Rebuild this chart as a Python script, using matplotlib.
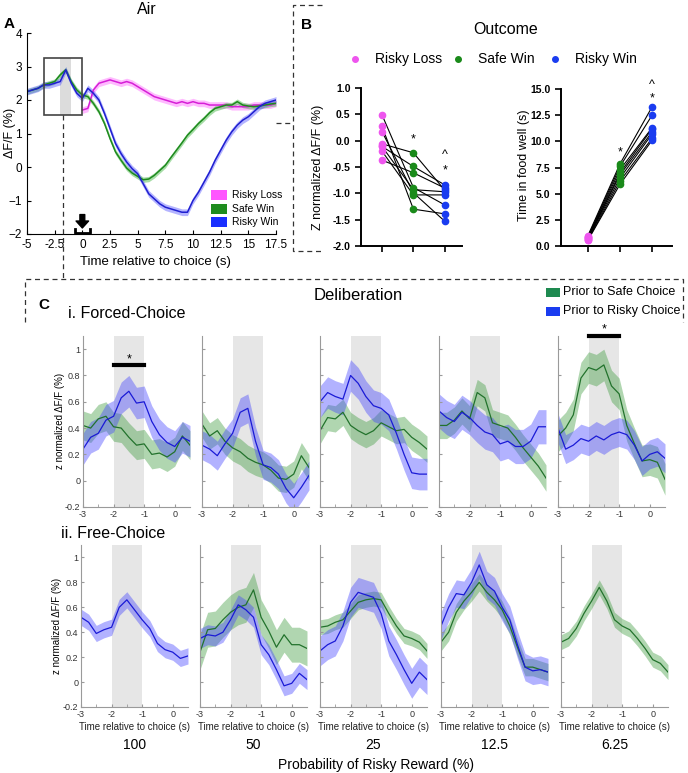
import numpy as np
import matplotlib
matplotlib.use("Agg")
import matplotlib.pyplot as plt
from matplotlib.lines import Line2D
from matplotlib.patches import Rectangle

plt.rcParams["font.family"] = ["Liberation Sans", "DejaVu Sans"]

W, H = 688, 773
nan = np.nan

# ---------------- Panel A: Air (ΔF/F around choice) ----------------
A_TIME = np.arange(-5, 17.51, 0.5)
A_SAFE_WIN = [2.25, 2.3, 2.35, 2.45, 2.5, 2.55, 2.75, 2.9, 2.55, 2.3,
              2.15, 2.1, 1.9, 1.65, 1.3, 0.85, 0.45, 0.2, -0.03, -0.18,
              -0.28, -0.38, -0.36, -0.25, -0.1, 0.05, 0.28, 0.5, 0.72, 0.95,
              1.12, 1.3, 1.45, 1.62, 1.75, 1.8, 1.85, 1.85, 1.95, 1.85,
              1.82, 1.8, 1.82, 1.85, 1.88, 1.9]
A_RISKY_WIN = [2.25, 2.3, 2.35, 2.45, 2.45, 2.5, 2.55, 2.9, 2.5, 2.2,
               2.05, 2.35, 2.2, 2.0, 1.6, 1.15, 0.7, 0.4, 0.15, -0.05,
               -0.2, -0.5, -0.8, -0.95, -1.1, -1.2, -1.25, -1.3, -1.35, -1.35,
               -1.0, -0.75, -0.45, -0.15, 0.2, 0.5, 0.8, 1.05, 1.25, 1.4,
               1.5, 1.65, 1.8, 1.9, 1.95, 2.0]
A_RISKY_LOSS = [nan] * 10 + [
    1.7, 1.75, 2.3, 2.5, 2.55, 2.6, 2.55, 2.5, 2.55, 2.5,
    2.4, 2.3, 2.2, 2.1, 2.05, 2.0, 1.95, 1.9, 1.95, 1.9,
    1.95, 1.9, 1.9, 1.85, 1.85, 1.85, 1.85, 1.8, 1.8, 1.8,
    1.8, 1.85, 1.85, 1.85, 1.85, 1.9]
A_SEM = {"Risky Loss": 0.1, "Safe Win": 0.08, "Risky Win": 0.1}
A_XTICKS = [-5, -2.5, 0, 2.5, 5, 7.5, 10, 12.5, 15, 17.5]
A_XTICKLABELS = ["-5", "-2.5", "0", "2.5", "5", "7.5", "10", "12.5", "15", "17.5"]

# ---------------- Panel B: Outcome ----------------
B_GROUPS = ["Risky Loss", "Safe Win", "Risky Win"]
B_Z_LOSS = [0.49, 0.27, 0.17, -0.06, -0.11, -0.11, -0.2, -0.37]
B_Z_SAFE = [-0.89, -1.3, -0.99, -0.23, -0.49, -0.93, -1.03, -0.61]
B_Z_RISKY = [-1.22, -1.39, -1.53, -0.94, -0.84, -0.97, -1.03, -0.9]
B_WELL_LOSS = [0.55, 0.6, 0.7, 0.75, 0.8, 0.85, 0.9, 1.0]
B_WELL_SAFE = [5.9, 6.2, 6.5, 6.8, 7.0, 7.3, 7.6, 7.85]
B_WELL_RISKY = [10.1, 10.3, 10.7, 10.9, 11.2, 11.3, 12.5, 13.3]

# ---------------- Panel C: Deliberation ----------------
C_TIME = [-3.0, -2.75, -2.5, -2.25, -2.0, -1.75, -1.5, -1.25, -1.0,
          -0.75, -0.5, -0.25, 0.0, 0.25, 0.5]
C_PROBS = ["100", "50", "25", "12.5", "6.25"]

C_FORCED_SAFE = [
    [0.42, 0.40, 0.47, 0.49, 0.41, 0.40, 0.33, 0.27, 0.28, 0.20, 0.21, 0.18, 0.22, 0.34, 0.27],
    [0.43, 0.34, 0.38, 0.30, 0.25, 0.22, 0.17, 0.14, 0.12, 0.08, 0.02, 0.01, 0.05, 0.19, 0.10],
    [0.38, 0.48, 0.47, 0.52, 0.42, 0.38, 0.35, 0.38, 0.44, 0.41, 0.38, 0.39, 0.33, 0.29, 0.24],
    [0.42, 0.42, 0.46, 0.53, 0.47, 0.67, 0.63, 0.44, 0.42, 0.40, 0.33, 0.25, 0.18, 0.11, 0.02],
    [0.34, 0.40, 0.50, 0.78, 0.86, 0.84, 0.88, 0.72, 0.66, 0.42, 0.28, 0.15, 0.16, 0.14, 0.01],
]
C_FORCED_RISKY = [
    [0.24, 0.33, 0.36, 0.46, 0.49, 0.63, 0.68, 0.59, 0.60, 0.45, 0.35, 0.29, 0.26, 0.33, 0.30],
    [0.27, 0.24, 0.19, 0.28, 0.36, 0.52, 0.55, 0.30, 0.12, 0.10, 0.05, -0.06, -0.13, -0.05, 0.04],
    [0.60, 0.67, 0.64, 0.62, 0.80, 0.74, 0.64, 0.57, 0.55, 0.50, 0.36, 0.20, 0.06, 0.05, 0.05],
    [0.53, 0.48, 0.45, 0.52, 0.48, 0.42, 0.37, 0.35, 0.28, 0.30, 0.26, 0.26, 0.30, 0.41, 0.41],
    [0.40, 0.24, 0.27, 0.32, 0.30, 0.34, 0.31, 0.35, 0.37, 0.35, 0.27, 0.15, 0.20, 0.22, 0.17],
]
C_FORCED_SAFE_SEM = [0.11, 0.10, 0.10, 0.10, 0.12]
C_FORCED_RISKY_SEM = [0.12, 0.11, 0.12, 0.13, 0.11]

C_FREE_SAFE = [
    None,
    [0.24, 0.42, 0.43, 0.50, 0.56, 0.60, 0.62, 0.74, 0.52, 0.41, 0.28, 0.38, 0.30, 0.30, 0.27],
    [0.44, 0.45, 0.48, 0.50, 0.57, 0.64, 0.66, 0.67, 0.66, 0.55, 0.45, 0.37, 0.35, 0.32, 0.25],
    [0.32, 0.40, 0.56, 0.65, 0.72, 0.80, 0.72, 0.66, 0.58, 0.45, 0.28, 0.12, 0.12, 0.10, 0.08],
    [0.32, 0.35, 0.43, 0.55, 0.65, 0.76, 0.65, 0.50, 0.45, 0.42, 0.35, 0.27, 0.18, 0.15, 0.08],
]
C_FREE_RISKY = [
    [0.52, 0.48, 0.39, 0.42, 0.44, 0.60, 0.66, 0.58, 0.50, 0.43, 0.31, 0.26, 0.24, 0.19, 0.21],
    [0.35, 0.38, 0.37, 0.40, 0.50, 0.62, 0.58, 0.52, 0.30, 0.22, 0.10, -0.03, -0.01, 0.07, 0.02],
    [0.25, 0.30, 0.33, 0.45, 0.64, 0.72, 0.70, 0.68, 0.55, 0.33, 0.22, 0.10, -0.01, 0.08, 0.02],
    [0.45, 0.60, 0.71, 0.70, 0.80, 0.94, 0.78, 0.73, 0.60, 0.50, 0.30, 0.12, 0.09, 0.10, 0.08],
    None,
]
C_FREE_SAFE_SEM = [0.0, 0.14, 0.06, 0.07, 0.06]
C_FREE_RISKY_SEM = [0.065, 0.08, 0.12, 0.11, 0.0]

# colours
PINK_LINE, PINK_FILL = "#d61fd6", "#ff66ff"
GREEN_LINE_A, GREEN_FILL_A = "#1d8a1d", "#3cb43c"
BLUE_LINE_A, BLUE_FILL_A = "#1f1fd0", "#5a5aff"
C_GREEN_LINE, C_GREEN_FILL = "#22722c", "#3a9a3a"
C_BLUE_LINE, C_BLUE_FILL = "#1a1ad6", "#4040ff"
BAND = "#e6e6e6"


def add_ax(fig, left, top, right, bottom):
    """Axes from pixel box (top-left origin)"""
    return fig.add_axes([left / W, 1 - bottom / H, (right - left) / W, (bottom - top) / H])


def ftext(fig, x, y, s, **kw):
    kw.setdefault("ha", "center")
    kw.setdefault("va", "center")
    fig.text(x / W, 1 - y / H, s, **kw)


def dashed(fig, xs, ys):
    fig.add_artist(Line2D([x / W for x in xs], [1 - y / H for y in ys],
                          transform=fig.transFigure, ls=(0, (4, 3)), lw=0.9, color="#333333"))


def fig_rect(fig, x, y, w, h, color):
    fig.add_artist(Rectangle((x / W, 1 - (y + h) / H), w / W, h / H,
                             transform=fig.transFigure, color=color, lw=0))


fig = plt.figure(figsize=(W / 100, H / 100), dpi=100)

# ================= Panel A =================
ax = add_ax(fig, 27, 33, 276, 234)
t = np.asarray(A_TIME)
series = [("Risky Loss", A_RISKY_LOSS, PINK_LINE, PINK_FILL),
          ("Safe Win", A_SAFE_WIN, GREEN_LINE_A, GREEN_FILL_A),
          ("Risky Win", A_RISKY_WIN, BLUE_LINE_A, BLUE_FILL_A)]
ax.add_patch(Rectangle((-2, 1.55), 1, 1.7, color="#dcdcdc", lw=0, zorder=0))
for name, vals, lc, fc in series:
    v = np.asarray(vals, dtype=float)
    s = A_SEM[name]
    ax.fill_between(t, v - s, v + s, color=fc, alpha=0.45, lw=0, zorder=1)
    ax.plot(t, v, color=lc, lw=1.1, zorder=2)
ax.add_patch(Rectangle((-3.5, 1.55), 3.5, 1.7, fill=False, ec="#444444", lw=1.2, zorder=3))
# choice arrow + bracket
ax.annotate("", xy=(0, -1.82), xytext=(0, -1.42),
            arrowprops=dict(facecolor="black", edgecolor="black", width=3.5,
                            headwidth=9, headlength=5, shrink=0))
ax.plot([-0.7, -0.7, 0.7, 0.7], [-1.86, -1.97, -1.97, -1.86], color="black", lw=2, clip_on=False)
ax.set_xlim(-5, 17.5)
ax.set_ylim(-2, 4)
ax.set_xticks(A_XTICKS)
ax.set_xticklabels(A_XTICKLABELS)
ax.set_yticks([-2, -1, 0, 1, 2, 3, 4])
ax.tick_params(direction="in", labelsize=8.5, length=3)
ax.spines["top"].set_visible(False)
ax.spines["right"].set_visible(False)
for nm, c, yy in [("Risky Loss", "#ff55ff", 195), ("Safe Win", "#1e8c1e", 209), ("Risky Win", "#1a2fff", 222)]:
    fig_rect(fig, 211, yy - 4.5, 16, 9, c)
    ftext(fig, 232, yy, nm, ha="left", fontsize=7.5)
ftext(fig, 147, 10, "Air", fontsize=11.5)
ftext(fig, 9, 24, "A", fontsize=11, fontweight="bold")
ftext(fig, 10, 133, "ΔF/F (%)", rotation=90, fontsize=9)
ftext(fig, 155, 262, "Time relative to choice (s)", fontsize=9.5)

# ================= Panel B =================
ftext(fig, 307, 25, "B", fontsize=11, fontweight="bold")
ftext(fig, 506, 30, "Outcome", fontsize=11.5)
for mx, tx, nm, c in [(355, 375, "Risky Loss", "#ee55ee"), (458, 478, "Safe Win", "#1a8a1a"),
                      (555, 575, "Risky Win", "#1a3cf0")]:
    fig.add_artist(Line2D([mx / W], [1 - 59 / H], marker="o", ms=4, color=c,
                          transform=fig.transFigure, lw=0))
    ftext(fig, tx, 59, nm, ha="left", fontsize=10)

group_colors = ["#ee55ee", "#1a8a1a", "#1a3cf0"]


def paired(ax, cols):
    x = np.arange(len(cols))
    for i in range(len(cols[0])):
        ax.plot(x, [c[i] for c in cols], color="black", lw=0.8, zorder=1)
    for j, c in enumerate(cols):
        ax.plot([j] * len(c), c, "o", ms=4.5, color=group_colors[j], zorder=2, clip_on=False)
    ax.set_xticks(x)
    ax.set_xticklabels([])
    for side in ("top", "right"):
        ax.spines[side].set_visible(False)
    for side in ("left", "bottom"):
        ax.spines[side].set_linewidth(1.4)
    ax.tick_params(direction="out", length=4, width=1.2, labelsize=7.5)
    for lab in ax.get_yticklabels():
        lab.set_fontweight("bold")


axb1 = add_ax(fig, 361, 88, 462, 246)
axb1.set_ylim(-2, 1)
axb1.set_xlim(-0.67, 2.55)
axb1.set_yticks([-2, -1.5, -1, -0.5, 0, 0.5, 1])
axb1.set_yticklabels(["-2.0", "-1.5", "-1.0", "-0.5", "0.0", "0.5", "1.0"])
paired(axb1, [B_Z_LOSS, B_Z_SAFE, B_Z_RISKY])
axb1.text(1, 0.03, "*", ha="center", va="center", fontsize=9)
axb1.text(2, -0.28, "^", ha="center", va="center", fontsize=9)
axb1.text(2, -0.57, "*", ha="center", va="center", fontsize=9)
ftext(fig, 318, 167, "Z normalized ΔF/F (%)", rotation=90, fontsize=9)

axb2 = add_ax(fig, 561, 89, 672, 246)
axb2.set_ylim(0, 15)
axb2.set_xlim(-0.84, 2.62)
axb2.set_yticks([0, 2.5, 5, 7.5, 10, 12.5, 15])
axb2.set_yticklabels(["0.0", "2.5", "5.0", "7.5", "10.0", "12.5", "15.0"])
paired(axb2, [B_WELL_LOSS, B_WELL_SAFE, B_WELL_RISKY])
axb2.text(1, 8.9, "*", ha="center", va="center", fontsize=9, clip_on=False)
axb2.text(2, 14.1, "*", ha="center", va="center", fontsize=9, clip_on=False)
axb2.text(2, 15.4, "^", ha="center", va="center", fontsize=9, clip_on=False)
ftext(fig, 524, 165, "Time in food well (s)", rotation=90, fontsize=9)

# ================= Panel C =================
ftext(fig, 44, 305, "C", fontsize=11, fontweight="bold")
ftext(fig, 358, 296, "Deliberation", fontsize=12)
ftext(fig, 68, 313, "i. Forced-Choice", ha="left", fontsize=11.5)
ftext(fig, 61, 533, "ii. Free-Choice", ha="left", fontsize=11.5)
fig_rect(fig, 546, 288, 14, 9, "#1e8a50")
fig_rect(fig, 546, 307, 14, 9, "#1a3cf0")
ftext(fig, 563, 292, "Prior to Safe Choice", ha="left", fontsize=9)
ftext(fig, 563, 311, "Prior to Risky Choice", ha="left", fontsize=9)

ROW1_LEFT = [83, 202, 320, 439, 558]
ROW2_LEFT = [81, 200, 320, 441, 561]
CW = 107
tc = np.asarray(C_TIME)


def trace_panel(ax, safe, safe_sem, risky, risky_sem, first, bottom_row):
    ax.axvspan(-2, -1, color=BAND, lw=0, zorder=0)
    if safe is not None:
        v = np.asarray(safe)
        ax.fill_between(tc, v - safe_sem, v + safe_sem, color=C_GREEN_FILL, alpha=0.4, lw=0, zorder=1)
    if risky is not None:
        v = np.asarray(risky)
        ax.fill_between(tc, v - risky_sem, v + risky_sem, color=C_BLUE_FILL, alpha=0.4, lw=0, zorder=1)
    if safe is not None:
        ax.plot(tc, safe, color=C_GREEN_LINE, lw=0.9, zorder=2)
    if risky is not None:
        ax.plot(tc, risky, color=C_BLUE_LINE, lw=0.9, zorder=2)
    ax.set_xlim(-3, 0.5)
    ax.set_ylim(-0.2, 1.1)
    ax.set_xticks([-3, -2, -1, 0])
    ax.set_xticks([-2.5, -1.5, -0.5], minor=True)
    ax.set_xticklabels(["-3", "-2", "-1", "0"])
    ax.set_yticks([-0.2, 0, 0.2, 0.4, 0.6, 0.8, 1])
    if first:
        ax.set_yticklabels(["-0.2", "0", "0.2", "0.4", "0.6", "0.8", "1"])
    else:
        ax.set_yticklabels([])
    for side in ("top", "right"):
        ax.spines[side].set_visible(False)
    for side in ("left", "bottom"):
        ax.spines[side].set_color("#9a9a9a")
        ax.spines[side].set_linewidth(0.8)
    ax.tick_params(which="both", direction="in", length=2, labelsize=6.5,
                   colors="#9a9a9a", labelcolor="#333333", pad=2)
    if bottom_row:
        ax.set_xlabel("Time relative to choice (s)", fontsize=7, labelpad=2, color="#222222")


for i in range(5):
    ax1 = add_ax(fig, ROW1_LEFT[i], 336, ROW1_LEFT[i] + CW, 507)
    trace_panel(ax1, C_FORCED_SAFE[i], C_FORCED_SAFE_SEM[i],
                C_FORCED_RISKY[i], C_FORCED_RISKY_SEM[i], i == 0, False)
    ax2 = add_ax(fig, ROW2_LEFT[i], 545, ROW2_LEFT[i] + CW, 707)
    trace_panel(ax2, C_FREE_SAFE[i], C_FREE_SAFE_SEM[i],
                C_FREE_RISKY[i], C_FREE_RISKY_SEM[i], i == 0, True)
    ftext(fig, ROW2_LEFT[i] + CW / 2, 745, C_PROBS[i], fontsize=10)
    if i == 0:
        ax1.plot([-2, -1], [0.88, 0.88], color="black", lw=3)
        ax1.text(-1.5, 0.925, "*", ha="center", va="center", fontsize=9)
    if i == 4:
        ax1.plot([-2, -1], [1.1, 1.1], color="black", lw=3, clip_on=False)
        ax1.text(-1.5, 1.15, "*", ha="center", va="center", fontsize=9, clip_on=False)

ftext(fig, 60, 421, "z normalized ΔF/F (%)", rotation=90, fontsize=7)
ftext(fig, 57, 626, "z normalized ΔF/F (%)", rotation=90, fontsize=7)
ftext(fig, 376, 765, "Probability of Risky Reward (%)", fontsize=10)

# ================= dashed connectors =================
dashed(fig, [322, 293, 293, 322], [5, 5, 251, 251])
dashed(fig, [276, 293], [123, 123])
dashed(fig, [63, 63], [115, 279])
dashed(fig, [25, 25, 683, 683], [322, 279, 279, 322])

fig.savefig("out.png", dpi=100)
